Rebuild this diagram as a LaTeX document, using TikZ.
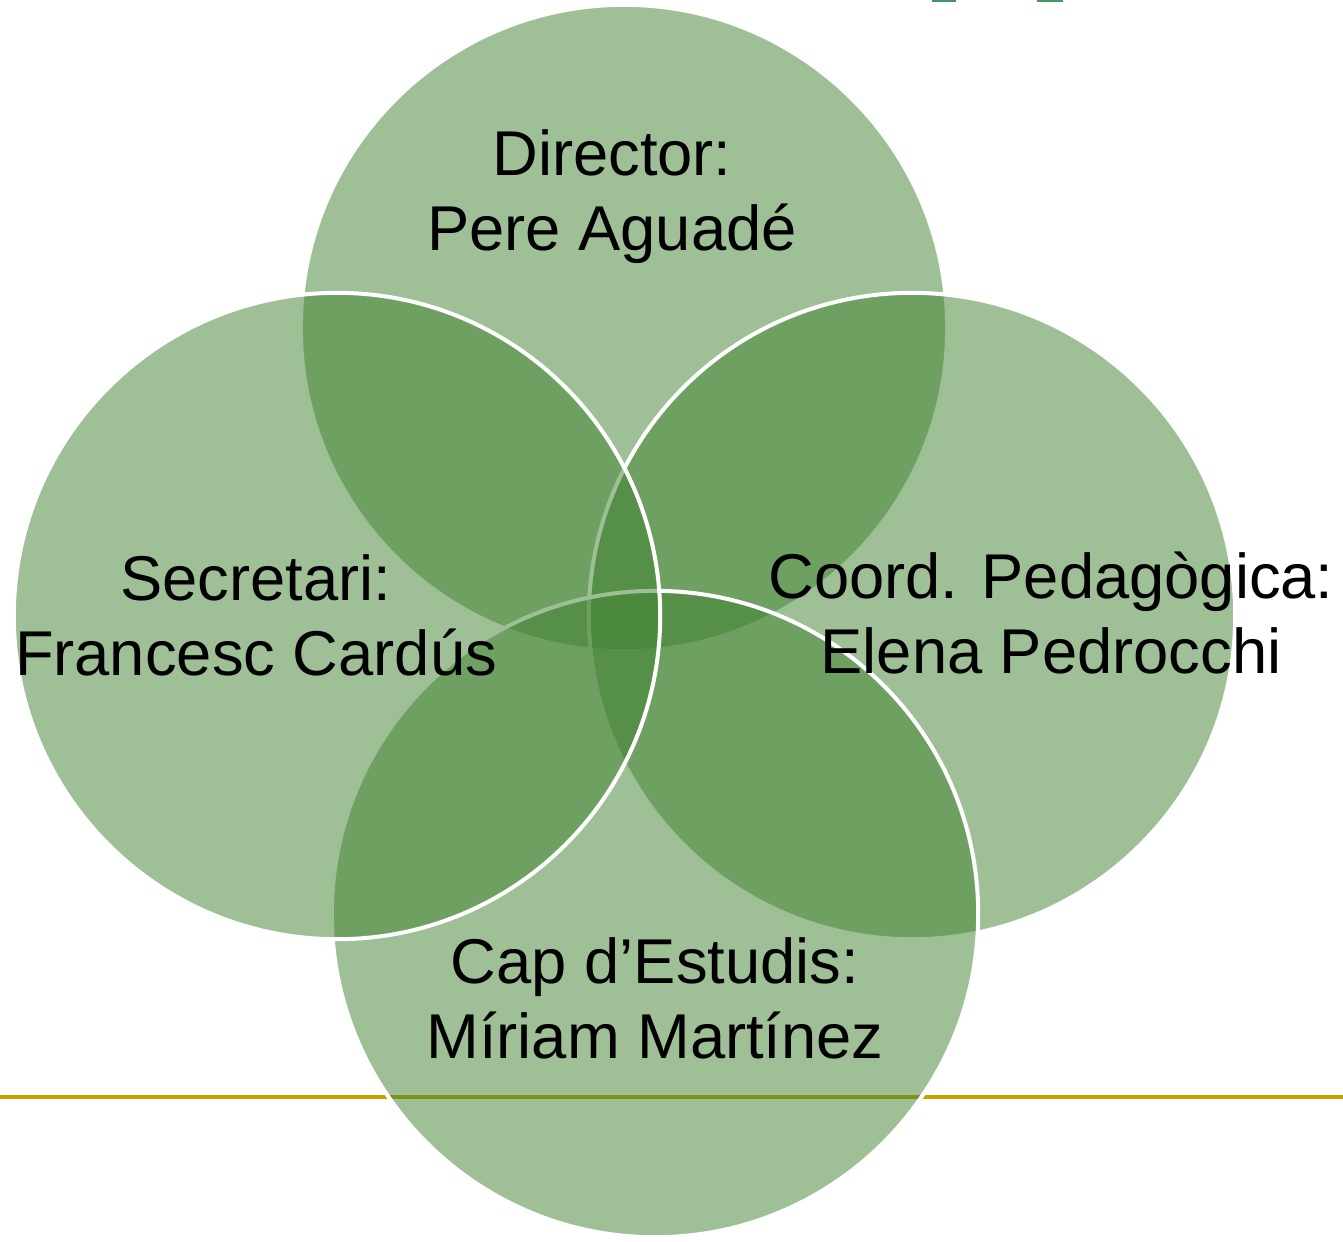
\documentclass[tikz,border=0pt]{standalone}
\usepackage{fontspec}
\setmainfont{Liberation Sans}
\usepackage{xcolor}

\definecolor{venngreen}{RGB}{63,129,47}
\definecolor{rulegold}{RGB}{201,160,0}
\definecolor{logogreen}{RGB}{70,150,105}

\begin{document}
\begin{tikzpicture}[x=0.01cm, y=-0.01cm,
  member/.style={fill=venngreen, fill opacity=.5, draw=white, draw opacity=1, line width=.04cm},
  roletext/.style={align=center, anchor=base, font=\fontsize{18}{21.3}\selectfont}]
  \useasboundingbox (0, 0) rectangle (1343, 1241);
  % centres of the four circles
  \coordinate (dir) at (624, 328);
  \coordinate (coord) at (912, 616);
  \coordinate (cap) at (655, 914);
  \coordinate (sec) at (337, 616);
  \fill[logogreen] (932, 0) rectangle (956, 2);
  \fill[logogreen] (1037, 0) rectangle (1063, 2);
  \draw[rulegold, line width=.04cm] (0, 1097) -- (1343, 1097);
  \draw[member] (dir) circle [radius=3.23cm];
  \draw[member] (coord) circle [radius=3.23cm];
  \draw[member] (cap) circle [radius=3.23cm];
  \draw[member] (sec) circle [radius=3.23cm];
  \node[roletext] (dirtext) at (612, 250) {Director:\\Pere Aguadé};
  \node[roletext] (sectext) at (256, 675) {Secretari:\\Francesc Cardús};
  \node[roletext] (coordtext) at (1051, 673) {Coord. Pedagògica:\\Elena Pedrocchi};
  \node[roletext] (captext) at (655, 1058) {Cap d’Estudis:\\Míriam Martínez};
\end{tikzpicture}
\end{document}
